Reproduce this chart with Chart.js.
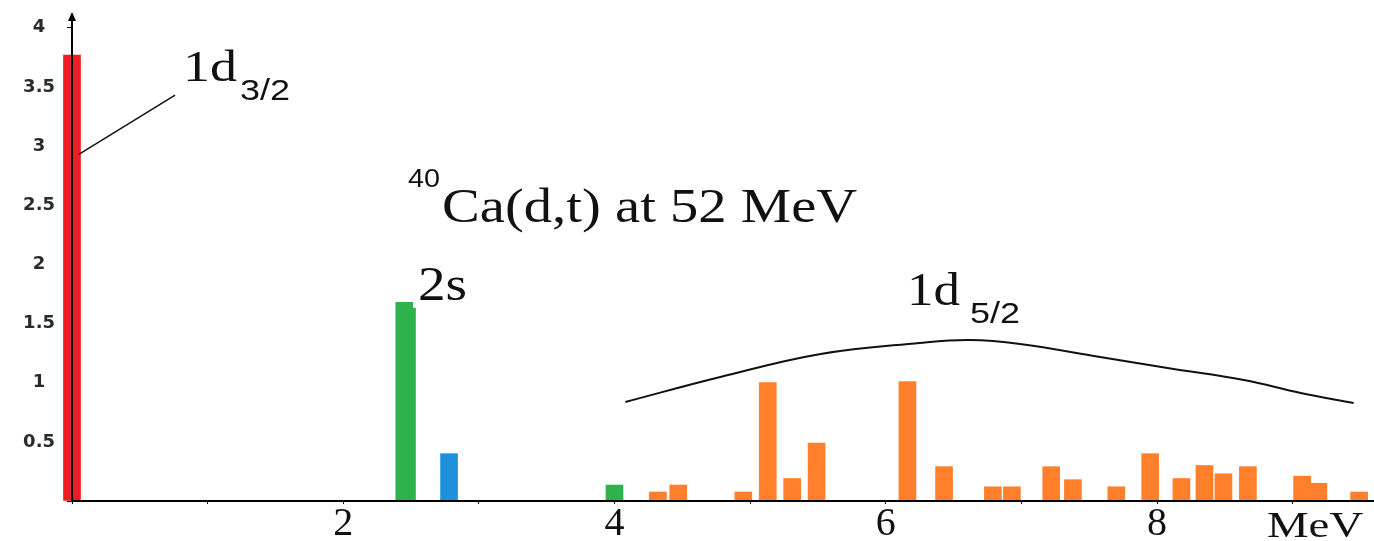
<!DOCTYPE html>
<html>
<head>
<meta charset="utf-8">
<title>40Ca(d,t) at 52 MeV</title>
<script src="https://cdn.jsdelivr.net/npm/chart.js@4/dist/chart.umd.min.js"></script>
<style>
  html, body { margin: 0; padding: 0; background: #ffffff; }
  #wrap { width: 1374px; height: 541px; position: relative; }
  canvas { display: block; }
</style>
</head>
<body>
<div id="wrap"><canvas id="c" width="1374" height="541"></canvas></div>
<script>
// Spectroscopic strength S versus excitation energy (MeV) in 39K from 40Ca(d,t)

// 1d3/2 ground state
const d32Energy   = [0.00];
const d32Strength = [3.77];

// 2s1/2 strength
const s12Energy   = [2.47, 2.45, 4.00];
const s12Strength = [1.63, 1.68, 0.135];

// 1f7/2 state
const f72Energy   = [2.78];
const f72Strength = [0.40];

// fragmented 1d5/2 strength
const d52Energy   = [4.32, 4.47, 4.95, 5.13, 5.31, 5.49, 6.16, 6.43, 6.79, 6.93,
                     7.22, 7.38, 7.70, 7.95, 8.18, 8.35, 8.49, 8.67, 9.07, 9.19, 9.49];
const d52Strength = [0.076, 0.135, 0.076, 1.00, 0.19, 0.49, 1.01, 0.29, 0.12, 0.12,
                     0.29, 0.18, 0.12, 0.40, 0.19, 0.30, 0.23, 0.29, 0.21, 0.15, 0.076];

// envelope drawn over the 1d5/2 distribution
const envEnergy   = [4.08, 4.78, 5.52, 6.25, 6.62, 6.99, 7.58, 8.10, 8.64, 9.06, 9.45];
const envStrength = [0.837, 1.048, 1.243, 1.336, 1.361, 1.327, 1.217, 1.120, 1.023, 0.913, 0.828];

// leader line from the 1d3/2 label to its bar
const leadEnergy   = [0.05, 0.76];
const leadStrength = [2.93, 3.43];

// axis ticks
const yTickValues = [0.5, 1, 1.5, 2, 2.5, 3, 3.5, 4];
const xTickValues = [2, 4, 6, 8];

const toXY = (xs, ys) => xs.map((x, i) => ({ x: x, y: ys[i] }));

const SERIF = '"Liberation Serif", "DejaVu Serif", serif';
const SANS  = '"Liberation Sans", Arial, sans-serif';

function stretchedText(ctx, text, x, y, font, sx) {
  ctx.save();
  ctx.font = font;
  ctx.fillStyle = '#111111';
  ctx.textAlign = 'left';
  ctx.textBaseline = 'alphabetic';
  ctx.translate(x, y);
  ctx.scale(sx, 1);
  ctx.fillText(text, 0, 0);
  ctx.restore();
}

// labels, the y-axis arrow head and the axis caption
const annotations = {
  id: 'annotations',
  afterDraw(chart) {
    const ctx = chart.ctx;
    const xs = chart.scales.x;
    const ax = xs.getPixelForValue(0);
    const top = chart.chartArea.top;

    // arrow head on the S axis
    ctx.save();
    ctx.fillStyle = '#000';
    ctx.beginPath();
    ctx.moveTo(ax, top - 3);
    ctx.lineTo(ax - 4, top + 6);
    ctx.lineTo(ax + 4, top + 6);
    ctx.closePath();
    ctx.fill();
    ctx.restore();

    stretchedText(ctx, '1d', 183, 81, '45px ' + SERIF, 1.2);
    stretchedText(ctx, '3/2', 240, 100, '30px ' + SANS, 1.2);

    stretchedText(ctx, '40', 408, 187, '25px ' + SANS, 1.15);
    stretchedText(ctx, 'Ca(d,t) at 52 MeV', 442, 222, '48px ' + SERIF, 1.18);

    stretchedText(ctx, '2s', 418, 300, '48px ' + SERIF, 1.15);

    stretchedText(ctx, '1d', 907, 305, '46px ' + SERIF, 1.15);
    stretchedText(ctx, '5/2', 970, 323, '30px ' + SANS, 1.2);

    stretchedText(ctx, 'MeV', 1267, 537, '36px ' + SERIF, 1.3);
  }
};

const barCommon = {
  type: 'bar',
  barThickness: 17,
  borderWidth: 0,
  grouped: false,
  clip: false
};

new Chart(document.getElementById('c'), {
  data: {
    datasets: [
      {
        type: 'line', label: 'envelope', data: toXY(envEnergy, envStrength),
        borderColor: '#111', borderWidth: 2, pointRadius: 0, tension: 0.4,
        fill: false
      },
      {
        type: 'line', label: 'leader', data: toXY(leadEnergy, leadStrength),
        borderColor: '#111', borderWidth: 1.5, pointRadius: 0, fill: false
      },
      Object.assign({}, barCommon, { label: '1d3/2', data: toXY(d32Energy, d32Strength), backgroundColor: '#ee1d23' }),
      Object.assign({}, barCommon, { label: '2s1/2', data: toXY(s12Energy, s12Strength), backgroundColor: '#2eb24c' }),
      Object.assign({}, barCommon, { label: '1f7/2', data: toXY(f72Energy, f72Strength), backgroundColor: '#1f90dc' }),
      Object.assign({}, barCommon, { label: '1d5/2', data: toXY(d52Energy, d52Strength), backgroundColor: '#ff7f2a' })
    ]
  },
  options: {
    responsive: false,
    animation: false,
    layout: { padding: { top: 15, right: 0, left: 0, bottom: 0 } },
    plugins: { legend: { display: false }, tooltip: { enabled: false } },
    scales: {
      x: {
        type: 'linear',
        offset: false,
        min: 0,
        max: 9.6,
        afterFit(scale) {
          scale.height = 40;
          scale.paddingLeft = 0;
          scale.paddingRight = 0;
        },
        ticks: {
          stepSize: 1,
          includeBounds: false,
          autoSkip: false,
          maxRotation: 0,
          padding: -4,
          color: '#111',
          font: { family: SERIF, size: 40 },
          callback: (v) => xTickValues.includes(v) ? String(v) : ''
        },
        grid: { display: true, offset: false, drawOnChartArea: false, tickLength: 3, color: '#000', lineWidth: 1 },
        border: { display: true, color: '#000', width: 2, z: 1 }
      },
      y: {
        type: 'linear',
        min: 0,
        max: 4.108,
        afterFit(scale) {
          scale.width = 72;
          scale.paddingTop = 0;
          scale.paddingBottom = 0;
        },
        ticks: {
          stepSize: 0.5,
          includeBounds: false,
          crossAlign: 'center',
          padding: 12,
          color: '#2a2a2a',
          font: { family: '"DejaVu Sans", sans-serif', size: 18, weight: 'bold' },
          callback: (v) => yTickValues.some(t => Math.abs(t - v) < 1e-6) ? String(v) : ''
        },
        grid: { display: true, drawOnChartArea: false, tickLength: 5, color: '#000', lineWidth: 1 },
        border: { display: true, color: '#000', width: 2, z: 1 }
      }
    }
  },
  plugins: [annotations]
});
</script>
</body>
</html>
